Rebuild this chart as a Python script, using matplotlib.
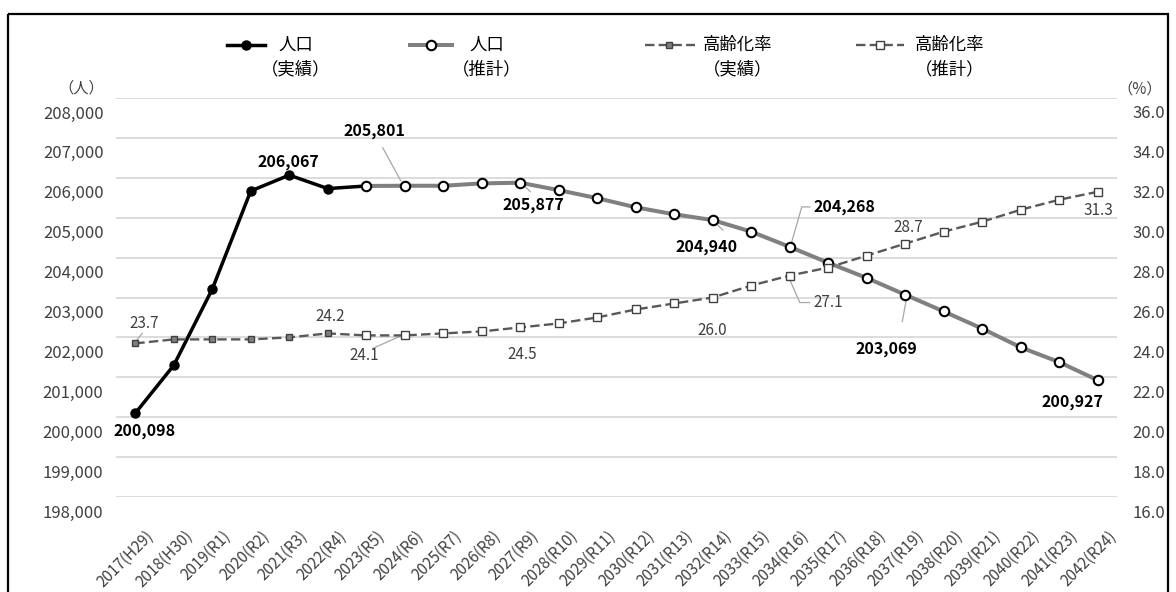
import matplotlib
matplotlib.use('Agg')
import matplotlib.pyplot as plt
from matplotlib.lines import Line2D
from matplotlib.patches import Rectangle
from matplotlib.ticker import FuncFormatter
from matplotlib.transforms import ScaledTranslation

plt.rcParams['font.family'] = ['Noto Sans CJK JP', 'DejaVu Sans']

# ---------------- data ----------------
years = ['2017(H29)', '2018(H30)', '2019(R1)', '2020(R2)', '2021(R3)', '2022(R4)',
         '2023(R5)', '2024(R6)', '2025(R7)', '2026(R8)', '2027(R9)', '2028(R10)',
         '2029(R11)', '2030(R12)', '2031(R13)', '2032(R14)', '2033(R15)', '2034(R16)',
         '2035(R17)', '2036(R18)', '2037(R19)', '2038(R20)', '2039(R21)', '2040(R22)',
         '2041(R23)', '2042(R24)']

# population, actual 2017-2023 (2023 links to the estimate)
pop_actual = [200098, 201300, 203210, 205670, 206067, 205730, 205795]
# population, estimate 2023-2042
pop_est = [205795, 205801, 205800, 205860, 205877, 205690, 205490, 205260, 205085,
           204940, 204650, 204268, 203870, 203490, 203069, 202650, 202220, 201750,
           201380, 200927]
# ageing rate (%), actual 2017-2023
aging_actual = [23.7, 23.9, 23.9, 23.9, 24.0, 24.2, 24.1]
# ageing rate (%), estimate 2023-2042
aging_est = [24.1, 24.1, 24.2, 24.3, 24.5, 24.7, 25.0, 25.4, 25.7, 26.0, 26.6, 27.1,
             27.5, 28.1, 28.7, 29.3, 29.8, 30.4, 30.9, 31.3]

n_actual_marks = 6          # 2017-2022 carry "actual" markers
est_start = 6               # estimates start at 2023

pop_labels = [0, 4, 7, 10, 15, 17, 20, 25]
aging_labels = [0, 5, 7, 10, 15, 17, 20, 25]

legend_labels = [('人口', '（実績）'), ('人口', '（推計）'),
                 ('高齢化率', '（実績）'), ('高齢化率', '（推計）')]

# ---------------- figure ----------------
W, H = 1176, 592
fig = plt.figure(figsize=(W / 100, H / 100), dpi=100)
ax = fig.add_axes([116 / W, 1 - 497 / H, (1117 - 116) / W, (497 - 98) / H])
ax2 = ax.twinx()

x_all = list(range(len(years)))
x_act = x_all[:len(pop_actual)]
x_est = x_all[est_start:est_start + len(pop_est)]

ax.set_xlim(-0.5, len(years) - 0.5)
ax.set_ylim(198000, 208000)
ax.set_yticks(range(198000, 208001, 1000))
ax.yaxis.set_major_formatter(FuncFormatter(lambda v, p: f'{int(v):,}'))
ax2.set_ylim(16, 36)
ax2.set_yticks(range(16, 37, 2))
ax2.yaxis.set_major_formatter(FuncFormatter(lambda v, p: f'{v:.1f}'))

ax.yaxis.grid(True, color='#d9d9d9', lw=1.3)
ax.set_axisbelow(True)
for a in (ax, ax2):
    for s in a.spines.values():
        s.set_visible(False)
    a.tick_params(length=0)
ax.tick_params(axis='y', labelsize=12, labelcolor='#404040', pad=9)
ax2.tick_params(axis='y', labelsize=12, labelcolor='#404040', pad=11)
# value labels sit a little below their gridlines, as in the reference
shift_down = ScaledTranslation(0, -0.14, fig.dpi_scale_trans)
for lab in ax.get_yticklabels() + ax2.get_yticklabels():
    lab.set_transform(lab.get_transform() + shift_down)

ax.set_xticks(x_all)
ax.set_xticklabels(years, rotation=45, ha='right', rotation_mode='anchor',
                   fontsize=11, color='#404040')
ax.tick_params(axis='x', pad=22)
for lab in ax.get_xticklabels():
    lab.set_transform(lab.get_transform() + ScaledTranslation(0.1, 0, fig.dpi_scale_trans))

# ---------------- series ----------------
POP_ACT = dict(color='black', lw=2.5, marker='o', ms=6.5, mfc='black', mec='black')
POP_EST = dict(color='#808080', lw=2.9, marker='o', ms=6.8, mfc='white', mec='black', mew=1.5)
AGE_ACT = dict(color='#595959', lw=1.7, ls=(0, (4, 1.8)), marker='s', ms=4.5,
               mfc='#7f7f7f', mec='#404040', mew=1)
AGE_EST = dict(color='#595959', lw=1.7, ls=(0, (4, 1.8)), marker='s', ms=6.4,
               mfc='white', mec='#404040', mew=1)

ax.plot(x_act, pop_actual, markevery=list(range(n_actual_marks)), zorder=3, **POP_ACT)
ax.plot(x_est, pop_est, zorder=4, **POP_EST)
ax2.plot(x_act, aging_actual, markevery=list(range(n_actual_marks)), zorder=3, **AGE_ACT)
ax2.plot(x_est, aging_est, zorder=4, **AGE_EST)

pop_all = pop_actual[:est_start] + pop_est
age_all = aging_actual[:est_start] + aging_est

# label offsets (pixels, y up) and leader polylines (pixels from point)
pop_off = {0: (9, -18), 4: (-1, 13), 7: (-30, 55), 10: (13, -22), 15: (-6, -27),
           17: (55, 40), 20: (-19, -54), 25: (-25, -22)}
pop_lead = {7: [(-22, 38), (-4, 5)], 10: [(5, -4), (10, -9)], 15: [(4, -4), (10, -10)],
            17: [(20, 40), (12, 40), (2, 5)], 20: [(1, -5), (-3, -27)]}
age_off = {0: (9, 20), 5: (2, 17), 7: (-40, -20), 10: (2, -27), 15: (0, -33),
           17: (39, -27), 20: (3, 16), 25: (1, -19)}
age_lead = {0: [(7, 10), (2, 4)], 7: [(-32, -13), (-5, -1)],
            17: [(20, -27), (10, -27), (0, -4)]}


def leader(a, i, v, pts):
    base = a.transData.transform((i, v))
    inv = a.transData.inverted()
    data = [inv.transform((base[0] + dx, base[1] + dy)) for dx, dy in pts]
    xs, ys = zip(*data)
    a.plot(xs, ys, color='#a6a6a6', lw=0.9, zorder=2, clip_on=False)


for i in pop_labels:
    v = pop_all[i]
    ax.annotate(f'{v:,}', xy=(i, v), xytext=pop_off[i], textcoords='offset pixels',
                ha='center', va='center', fontsize=11.5, fontweight='bold',
                color='black', zorder=6)
    if i in pop_lead:
        leader(ax, i, v, pop_lead[i])

for i in aging_labels:
    v = age_all[i]
    ax2.annotate(f'{v:.1f}', xy=(i, v), xytext=age_off[i], textcoords='offset pixels',
                 ha='center', va='center', fontsize=11, color='#404040', zorder=6)
    if i in age_lead:
        leader(ax2, i, v, age_lead[i])

# ---------------- overlay: frame, units, legend ----------------
lax = fig.add_axes([0, 0, 1, 1], zorder=10)
lax.set_xlim(0, W)
lax.set_ylim(H, 0)
lax.axis('off')
lax.patch.set_alpha(0)
lax.add_patch(Rectangle((8, 14), 1160, 620, fill=False, lw=1.6, edgecolor='black',
                        clip_on=False))
lax.text(81, 88, '（人）', ha='center', va='center', fontsize=11, color='#404040')
lax.text(1140, 89, '（%）', ha='center', va='center', fontsize=11, color='#404040')

leg_items = [(227, 265, 246, 296, POP_ACT), (410, 452, 431, 487, POP_EST),
             (645, 695, 669, 738, AGE_ACT), (856, 904, 880, 950, AGE_EST)]
for (x0, x1, mx, tx, st), (l1, l2) in zip(leg_items, legend_labels):
    line_st = {k: v for k, v in st.items() if k not in ('marker', 'ms', 'mfc', 'mec', 'mew')}
    lax.add_line(Line2D([x0, x1], [45, 45], **line_st))
    mk = {k: v for k, v in st.items() if k in ('marker', 'ms', 'mfc', 'mec', 'mew')}
    lax.add_line(Line2D([mx], [45], ls='none', **mk))
    lax.text(tx, 45, l1, ha='center', va='center', fontsize=12.5, color='black')
    lax.text(tx, 69, l2, ha='center', va='center', fontsize=12.5, color='black')

fig.savefig('out.png', dpi=100, facecolor='white')
